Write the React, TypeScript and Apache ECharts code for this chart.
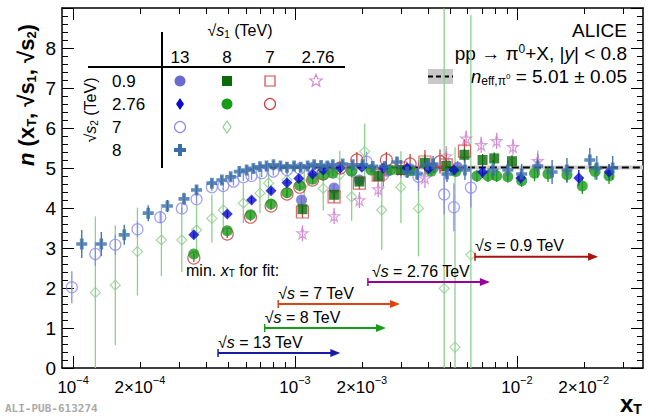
import { useEffect, useRef } from "react";
import * as echarts from "echarts";

// x_T values are real numbers, plotted on a log10 scale
const xTickLabels = [1e-4, 2e-4, 1e-3, 2e-3, 1e-2, 2e-2];
const xMajor = [1e-4, 1e-3, 1e-2];
const xMinor = [2e-4, 3e-4, 4e-4, 5e-4, 6e-4, 7e-4, 8e-4, 9e-4, 2e-3, 3e-3, 4e-3, 5e-3, 6e-3, 7e-3, 8e-3, 9e-3, 2e-2, 3e-2];

const fitValue = 5.01;
const fitErr = 0.05;
const fitStart = 7.7e-4;

// sqrt(s1)=13, sqrt(s2)=0.9
const c13_09X = [1.07e-3, 1.5e-3, 1.95e-3, 2.6e-3, 3.3e-3, 4.2e-3, 5.4e-3];
const c13_09Y = [4.2, 4.5, 4.7, 4.92, 4.98, 5.0, 5.02];
const c13_09E = [0.1, 0.1, 0.1, 0.1, 0.1, 0.12, 0.15];
// 8 / 0.9
const s8_09X = [1.08e-3, 1.5e-3, 1.95e-3, 2.37e-3, 3.0e-3, 3.85e-3, 4.8e-3, 5.8e-3, 7.0e-3, 7.9e-3, 9.5e-3];
const s8_09Y = [3.97, 4.33, 4.66, 4.8, 4.95, 5.13, 5.05, 5.33, 5.2, 5.24, 5.17];
const s8_09E = [0.1, 0.1, 0.1, 0.1, 0.12, 0.2, 0.2, 0.15, 0.15, 0.15, 0.15];
// 7 / 0.9
const s7_09X = [1.08e-3, 1.5e-3, 1.95e-3, 2.37e-3, 3.0e-3, 3.85e-3, 4.8e-3, 5.8e-3];
const s7_09Y = [3.9, 4.28, 4.62, 4.82, 5.0, 5.15, 5.08, 5.42];
const s7_09E = [0.15, 0.15, 0.15, 0.15, 0.2, 0.3, 0.3, 0.3];
// 2.76 / 0.9
const st276_09X = [1.08e-3, 1.5e-3, 1.95e-3, 2.37e-3, 3.0e-3, 3.85e-3, 4.8e-3, 5.9e-3, 6.9e-3, 8.1e-3, 9.6e-3, 1.24e-2];
const st276_09Y = [3.37, 3.8, 4.2, 4.47, 4.95, 4.75, 5.3, 5.74, 5.58, 5.68, 5.53, 5.18];
const st276_09E = [0.2, 0.2, 0.2, 0.2, 0.2, 0.25, 0.25, 0.2, 0.2, 0.2, 0.2, 0.25];
// 13 / 2.76
const d13_276X = [3.5e-4, 4.95e-4, 6.37e-4, 7.8e-4, 9.2e-4, 1.04e-3, 1.2e-3, 1.34e-3, 1.6e-3, 2.0e-3, 2.5e-3, 3.2e-3, 4.0e-3, 5.2e-3, 7.0e-3, 1.04e-2, 1.9e-2, 2.6e-2];
const d13_276Y = [3.33, 3.85, 4.2, 4.43, 4.63, 4.74, 4.85, 4.95, 5.0, 5.02, 5.0, 5.0, 4.98, 4.95, 4.9, 4.75, 4.75, 4.9];
const d13_276E = [0.08, 0.08, 0.08, 0.08, 0.08, 0.08, 0.08, 0.08, 0.08, 0.08, 0.08, 0.1, 0.1, 0.12, 0.15, 0.15, 0.2, 0.2];
// 8 / 2.76
const c8_276X = [3.5e-4, 4.95e-4, 6.3e-4, 7.8e-4, 9.2e-4, 1.05e-3, 1.2e-3, 1.34e-3, 1.48e-3, 1.8e-3, 2.2e-3, 2.7e-3, 3.3e-3, 4.1e-3, 5.3e-3, 6.6e-3, 7.4e-3, 8.1e-3, 9.1e-3, 1.05e-2, 1.2e-2, 1.38e-2, 1.68e-2, 1.97e-2, 2.25e-2, 2.6e-2];
const c8_276Y = [2.85, 3.43, 3.83, 4.1, 4.38, 4.56, 4.72, 4.83, 4.87, 4.92, 4.95, 4.95, 4.93, 4.92, 4.91, 4.8, 4.8, 4.8, 4.78, 4.68, 4.87, 4.85, 4.83, 4.55, 4.91, 4.8];
const c8_276E = [0.08, 0.08, 0.08, 0.08, 0.08, 0.08, 0.08, 0.08, 0.08, 0.08, 0.08, 0.08, 0.1, 0.1, 0.1, 0.15, 0.15, 0.15, 0.15, 0.15, 0.2, 0.2, 0.2, 0.2, 0.2, 0.2];
// 7 / 2.76
const oc7_276X = [3.5e-4, 4.95e-4, 6.3e-4, 7.8e-4, 9.2e-4, 1.05e-3, 1.2e-3, 1.34e-3, 1.6e-3, 1.9e-3, 2.58e-3, 3.3e-3, 4.5e-3];
const oc7_276Y = [2.75, 3.35, 3.77, 4.05, 4.35, 4.52, 4.7, 4.85, 5.0, 5.2, 5.2, 5.1, 5.16];
const oc7_276E = [0.1, 0.1, 0.1, 0.1, 0.1, 0.1, 0.1, 0.12, 0.15, 0.2, 0.2, 0.25, 0.3];
// 13 / 7
const oc13_7X = [9.87e-5, 1.26e-4, 1.55e-4, 1.95e-4, 2.47e-4, 3.09e-4, 3.6e-4, 4.22e-4, 4.75e-4, 5.28e-4, 5.85e-4, 6.37e-4, 7.08e-4, 7.98e-4, 9.2e-4, 1.05e-3, 1.2e-3, 1.4e-3, 1.8e-3, 2.1e-3, 2.5e-3, 3.6e-3, 4.7e-3, 5.2e-3, 6.2e-3];
const oc13_7Y = [2.02, 2.85, 3.08, 3.47, 3.77, 3.99, 4.22, 4.52, 4.55, 4.66, 4.77, 4.8, 4.87, 4.91, 4.95, 4.98, 5.0, 5.0, 4.95, 5.16, 4.83, 4.78, 4.34, 4.02, 4.51];
const oc13_7E = [0.4, 0.3, 0.25, 0.2, 0.15, 0.12, 0.1, 0.1, 0.1, 0.1, 0.1, 0.1, 0.1, 0.1, 0.1, 0.1, 0.1, 0.15, 0.2, 0.25, 0.3, 0.35, 0.5, 0.6, 0.5];
// 8 / 7
const od8_7X = [1.26e-4, 1.55e-4, 1.95e-4, 2.5e-4, 3.09e-4, 3.6e-4, 4.22e-4, 4.75e-4, 5.85e-4, 6.95e-4, 7.6e-4, 9.2e-4, 1.1e-3, 1.34e-3, 1.59e-3, 1.8e-3, 2.06e-3, 2.46e-3, 3.0e-3, 3.6e-3, 4.7e-3, 5.26e-3, 6.2e-3];
const od8_7Y = [1.89, 2.07, 2.91, 3.2, 3.2, 3.45, 3.74, 3.95, 4.12, 4.37, 4.62, 4.7, 4.6, 4.49, 4.83, 4.28, 5.41, 3.95, 4.52, 3.99, 1.99, 0.52, 2.83];
const od8_7E = [1.9, 1.5, 1.1, 0.9, 0.8, 0.7, 0.6, 0.55, 0.5, 0.5, 0.5, 0.45, 0.5, 0.55, 0.6, 0.6, 0.7, 1.0, 0.9, 1.2, 7, 5, 6];
// 13 / 8
const p13_8X = [1.094e-4, 1.34e-4, 1.7e-4, 2.18e-4, 2.66e-4, 3.16e-4, 3.6e-4, 4.22e-4, 4.68e-4, 5.13e-4, 5.61e-4, 6.05e-4, 6.49e-4, 6.95e-4, 7.44e-4, 8.0e-4, 8.6e-4, 9.2e-4, 9.9e-4, 1.06e-3, 1.14e-3, 1.22e-3, 1.31e-3, 1.4e-3, 1.48e-3, 1.64e-3, 1.82e-3, 2.02e-3, 2.24e-3, 2.54e-3, 2.88e-3, 3.2e-3, 3.55e-3, 3.94e-3, 4.19e-3, 4.84e-3, 5.83e-3, 7.8e-3, 9.1e-3, 1.05e-2, 1.24e-2, 1.44e-2, 1.68e-2, 2.13e-2, 2.29e-2, 2.7e-2];
const p13_8Y = [3.1, 3.1, 3.33, 3.87, 4.05, 4.23, 4.45, 4.62, 4.7, 4.78, 4.91, 4.95, 4.99, 5.03, 5.05, 5.08, 5.05, 5.02, 5.05, 5.02, 5.05, 5.08, 5.06, 5.05, 5.08, 5.1, 5.08, 5.08, 5.04, 5.04, 5.15, 4.9, 4.85, 5.08, 5.1, 4.85, 4.95, 4.95, 4.95, 4.85, 5.05, 4.9, 4.95, 5.2, 5.0, 5.0];
const p13_8E = [0.35, 0.3, 0.25, 0.2, 0.15, 0.15, 0.12, 0.1, 0.1, 0.1, 0.1, 0.1, 0.1, 0.1, 0.1, 0.1, 0.1, 0.1, 0.1, 0.1, 0.1, 0.1, 0.1, 0.1, 0.1, 0.1, 0.1, 0.1, 0.1, 0.1, 0.12, 0.15, 0.15, 0.15, 0.2, 0.2, 0.25, 0.25, 0.25, 0.25, 0.3, 0.3, 0.3, 0.3, 0.3, 0.3];

// min x_T for fit arrows
const arrowLabels = ["13", "8", "7", "2.76", "0.9"];
const arrowStart = [4.5e-4, 7.3e-4, 8.4e-4, 2.13e-3, 6.47e-3];
const arrowEnd = [1.6e-3, 2.57e-3, 2.97e-3, 7.55e-3, 2.32e-2];
const arrowY = [0.375, 1.0, 1.6, 2.15, 2.78];
const arrowColors = ["#1a1aa8", "#1a9a1a", "#dd4411", "#990099", "#aa1111"];

const CROSS = "path://M3.3,0H6.7V3.3H10V6.7H6.7V10H3.3V6.7H0V3.3H3.3Z";
const STAR = "path://M50,0L61,35L98,35L68,57L79,91L50,70L21,91L32,57L2,35L39,35Z";
const FONT = "Liberation Sans, Arial, sans-serif";
const L = (v: number) => Math.log10(v);
const X_MIN = -4.05;
const X_MAX = -1.432;

type Spec = { x: number[]; y: number[]; e: number[]; color: string; symbol: string; size: number; open: boolean };

const specs: Spec[] = [
  { x: od8_7X, y: od8_7Y, e: od8_7E, color: "#8fcf8f", symbol: "diamond", size: 10, open: true },
  { x: oc13_7X, y: oc13_7Y, e: oc13_7E, color: "#8a8af0", symbol: "circle", size: 11, open: true },
  { x: st276_09X, y: st276_09Y, e: st276_09E, color: "#d08ad0", symbol: STAR, size: 11, open: true },
  { x: c13_09X, y: c13_09Y, e: c13_09E, color: "#6a6ad0", symbol: "circle", size: 11, open: false },
  { x: s7_09X, y: s7_09Y, e: s7_09E, color: "#d04848", symbol: "rect", size: 12, open: true },
  { x: s8_09X, y: s8_09Y, e: s8_09E, color: "#0b6b0b", symbol: "rect", size: 10, open: false },
  { x: oc7_276X, y: oc7_276Y, e: oc7_276E, color: "#c04040", symbol: "circle", size: 12, open: true },
  { x: c8_276X, y: c8_276Y, e: c8_276E, color: "#1a9a1a", symbol: "circle", size: 11, open: false },
  { x: d13_276X, y: d13_276Y, e: d13_276E, color: "#0a0acc", symbol: "diamond", size: 11, open: false },
  { x: p13_8X, y: p13_8Y, e: p13_8E, color: "#3a6ea8", symbol: CROSS, size: 11, open: false },
];

// legend table: [column, row, spec index]
const tableCells: [number, number, number][] = [
  [0, 0, 3], [1, 0, 5], [2, 0, 4], [3, 0, 2],
  [0, 1, 8], [1, 1, 7], [2, 1, 6],
  [0, 2, 1], [1, 2, 0],
  [0, 3, 9],
];
const colLabels = ["13", "8", "7", "2.76"];
const rowLabels = ["0.9", "2.76", "7", "8"];

function tickLabel(v: number) {
  const e = Math.floor(v + 1e-6);
  const m = Math.round(Math.pow(10, v - e));
  const sup = `{s|−${-e}}`;
  return m === 1 ? `{b|10}${sup}` : `{b|${m}×10}${sup}`;
}

export default function App() {
  const ref = useRef<HTMLDivElement>(null);

  useEffect(() => {
    if (!ref.current) return;
    document.body.style.margin = "0";
    const chart = echarts.init(ref.current, null, { renderer: "svg" });

    const errSeries = specs.map((s) => ({
      type: "custom",
      xAxisIndex: 0,
      yAxisIndex: 0,
      clip: true,
      z: 2,
      data: s.x.map((x, i) => [L(x), s.y[i], s.e[i]]),
      renderItem: (_p: any, api: any) => {
        const x = api.value(0);
        const y = api.value(1);
        const e = api.value(2);
        const a = api.coord([x, Math.max(y - e, 0)]);
        const b = api.coord([x, Math.min(y + e, 9)]);
        return {
          type: "line",
          shape: { x1: a[0], y1: a[1], x2: b[0], y2: b[1] },
          style: { stroke: s.color, lineWidth: 1.3 },
        };
      },
    }));

    const markerSeries = specs.map((s) => ({
      type: "scatter",
      xAxisIndex: 0,
      yAxisIndex: 0,
      z: 3,
      symbol: s.symbol,
      symbolSize: s.size,
      data: s.x.map((x, i) => [L(x), s.y[i]]),
      itemStyle: s.open
        ? { color: "rgba(255,255,255,0)", borderColor: s.color, borderWidth: 1.2 }
        : { color: s.color },
    }));

    const arrows = {
      type: "custom",
      xAxisIndex: 0,
      yAxisIndex: 0,
      z: 4,
      data: arrowStart.map((x, i) => [L(x), L(arrowEnd[i]), arrowY[i], i]),
      renderItem: (_p: any, api: any) => {
        const i = api.value(3);
        const a = api.coord([api.value(0), api.value(2)]);
        const b = api.coord([api.value(1), api.value(2)]);
        const c = arrowColors[i];
        return {
          type: "group",
          children: [
            { type: "line", shape: { x1: a[0], y1: a[1], x2: b[0] - 8, y2: b[1] }, style: { stroke: c, lineWidth: 2 } },
            { type: "line", shape: { x1: a[0], y1: a[1] - 4, x2: a[0], y2: a[1] + 4 }, style: { stroke: c, lineWidth: 1.5 } },
            { type: "polygon", shape: { points: [[b[0], b[1]], [b[0] - 10, b[1] - 4], [b[0] - 10, b[1] + 4]] }, style: { fill: c } },
            {
              type: "text",
              x: a[0] + (i === 3 ? 4 : 0),
              y: a[1] - 3,
              style: {
                text: `{r|√}{i|s}{r| = ${arrowLabels[i]} TeV}`,
                verticalAlign: "bottom",
                rich: {
                  r: { fontSize: 16, fontFamily: FONT, fill: "#000" },
                  i: { fontSize: 16, fontFamily: FONT, fontStyle: "italic", fill: "#000" },
                },
              },
            },
          ],
        };
      },
    };

    const fit = {
      type: "line",
      xAxisIndex: 0,
      yAxisIndex: 0,
      z: 1,
      symbol: "none",
      data: [[L(fitStart), fitValue], [X_MAX, fitValue]],
      lineStyle: { color: "#000", type: [7, 4], width: 2 },
      markArea: {
        silent: true,
        itemStyle: { color: "#cfcfcf" },
        data: [[{ xAxis: L(fitStart), yAxis: fitValue - fitErr }, { xAxis: X_MAX, yAxis: fitValue + fitErr }]],
      },
    };

    const axisBase = { type: "value", min: X_MIN, max: X_MAX, splitLine: { show: false } };
    const tickStyle = { lineStyle: { color: "#000", width: 1 } };

    const colX = [180, 227, 270, 316];
    const rowY = [81, 104, 127, 150];

    const txt = (x: number, y: number, text: string, extra: any = {}) => ({
      type: "text",
      x,
      y,
      style: { text, fontSize: 17, fontFamily: FONT, fill: "#000", ...extra },
    });

    const sqrtRich = {
      r: { fontSize: 16, fontFamily: FONT, fill: "#000" },
      i: { fontSize: 16, fontFamily: FONT, fontStyle: "italic", fill: "#000" },
      sub: { fontSize: 10, fontFamily: FONT, fill: "#000", padding: [8, 0, 0, 0] },
    };

    const legendMarks = tableCells.map(([c, r, k]) => {
      const s = specs[k];
      const x = colX[c];
      const y = rowY[r];
      const st = { fill: s.open ? "none" : s.color, stroke: s.open ? s.color : undefined, lineWidth: 1.2 };
      if (s.symbol === "circle") return { type: "circle", shape: { cx: x, cy: y, r: 5.5 }, style: st };
      if (s.symbol === "rect") return { type: "rect", shape: { x: x - 5, y: y - 5, width: 10, height: 10 }, style: st };
      if (s.symbol === "diamond")
        return { type: "polygon", shape: { points: [[x, y - 6], [x + 4, y], [x, y + 6], [x - 4, y]] }, style: st };
      if (s.symbol === STAR) {
        const pts: number[][] = [];
        for (let j = 0; j < 10; j++) {
          const rr = j % 2 === 0 ? 6.5 : 2.8;
          const a = -Math.PI / 2 + (j * Math.PI) / 5;
          pts.push([x + rr * Math.cos(a), y + rr * Math.sin(a)]);
        }
        return { type: "polygon", shape: { points: pts }, style: st };
      }
      return {
        type: "polygon",
        shape: { points: [[x - 2, y - 6], [x + 2, y - 6], [x + 2, y - 2], [x + 6, y - 2], [x + 6, y + 2], [x + 2, y + 2], [x + 2, y + 6], [x - 2, y + 6], [x - 2, y + 2], [x - 6, y + 2], [x - 6, y - 2], [x - 2, y - 2]] },
        style: st,
      };
    });

    const graphic: any[] = [
      { type: "line", shape: { x1: 162, y1: 32, x2: 162, y2: 168 }, style: { stroke: "#000", lineWidth: 2 } },
      { type: "line", shape: { x1: 88, y1: 67, x2: 345, y2: 67 }, style: { stroke: "#000", lineWidth: 2 } },
      { type: "text", x: 240, y: 30, style: { text: "{r|√}{i|s}{sub|1}{r| (TeV)}", align: "center", verticalAlign: "middle", rich: sqrtRich } },
      ...colLabels.map((t, i) => txt(colX[i] + (i === 3 ? 2 : 0), 57, t, { align: "center", verticalAlign: "middle" })),
      ...rowLabels.map((t, i) => txt(112, rowY[i], t, { align: "left", verticalAlign: "middle" })),
      { type: "text", x: 90, y: 110, rotation: Math.PI / 2, style: { text: "{r|√}{i|s}{sub|2}{r| (TeV)}", align: "center", verticalAlign: "middle", rich: sqrtRich } },
      ...legendMarks,
      // y axis title
      {
        type: "text", x: 26, y: 95, rotation: Math.PI / 2,
        style: {
          text: "{n|n}{b| (x}{sub|T}{b|, √s}{sub|1}{b|, √s}{sub|2}{b|)}",
          align: "center", verticalAlign: "middle",
          rich: {
            n: { fontSize: 22, fontFamily: FONT, fontWeight: "bold", fontStyle: "italic", fill: "#000" },
            b: { fontSize: 22, fontFamily: FONT, fontWeight: "bold", fill: "#000" },
            sub: { fontSize: 13, fontFamily: FONT, fontWeight: "bold", fill: "#000", padding: [10, 0, 0, 0] },
          },
        },
      },
      // x axis title
      {
        type: "text", x: 620, y: 403,
        style: {
          text: "{b|x}{sub|T}", verticalAlign: "middle",
          rich: {
            b: { fontSize: 24, fontFamily: FONT, fontWeight: "bold", fill: "#000" },
            sub: { fontSize: 14, fontFamily: FONT, fontWeight: "bold", fill: "#000", padding: [12, 0, 0, 0] },
          },
        },
      },
      txt(5, 408, "ALI-PUB-613274", { fontSize: 11, fontFamily: "DejaVu Sans Mono, monospace", fontWeight: "bold", fill: "#aaa", verticalAlign: "middle" }),
      txt(627, 30, "ALICE", { align: "right", verticalAlign: "middle", fontSize: 19 }),
      {
        type: "text", x: 627, y: 53,
        style: {
          text: "{r|pp → π}{sup|0}{r|+X, |}{i|y}{r|| < 0.8}", align: "right", verticalAlign: "middle",
          rich: {
            r: { fontSize: 19, fontFamily: FONT, fill: "#000" },
            i: { fontSize: 19, fontFamily: FONT, fontStyle: "italic", fill: "#000" },
            sup: { fontSize: 12, fontFamily: FONT, fill: "#000", padding: [0, 0, 9, 0] },
          },
        },
      },
      { type: "rect", shape: { x: 428, y: 69, width: 25, height: 15 }, style: { fill: "#c8c8c8" } },
      { type: "line", shape: { x1: 428, y1: 76.5, x2: 453, y2: 76.5 }, style: { stroke: "#000", lineWidth: 2, lineDash: [5, 3] } },
      {
        type: "text", x: 627, y: 76,
        style: {
          text: "{i|n}{sub|eff,π}{sup2|0}{r| = 5.01 ± 0.05}", align: "right", verticalAlign: "middle",
          rich: {
            r: { fontSize: 19, fontFamily: FONT, fill: "#000" },
            i: { fontSize: 19, fontFamily: FONT, fontStyle: "italic", fill: "#000" },
            sub: { fontSize: 12, fontFamily: FONT, fill: "#000", padding: [9, 0, 0, 0] },
            sup2: { fontSize: 8, fontFamily: FONT, fill: "#000" },
          },
        },
      },
      {
        type: "text", x: 186, y: 270,
        style: {
          text: "{r|min. }{i|x}{sub|T}{r| for fit:}", verticalAlign: "middle",
          rich: {
            r: { fontSize: 16, fontFamily: FONT, fill: "#000" },
            i: { fontSize: 16, fontFamily: FONT, fontStyle: "italic", fill: "#000" },
            sub: { fontSize: 10, fontFamily: FONT, fill: "#000", padding: [7, 0, 0, 0] },
          },
        },
      },
    ];

    const option: any = {
      animation: false,
      backgroundColor: "#fff",
      grid: { left: 62, right: 7, top: 8, bottom: 48 },
      xAxis: [
        {
          ...axisBase,
          position: "bottom",
          axisLine: { show: true, lineStyle: { color: "#000", width: 1.5 } },
          axisTick: { show: true, inside: true, length: 12, customValues: xMajor.map(L), ...tickStyle },
          axisLabel: {
            customValues: xTickLabels.map(L),
            formatter: tickLabel,
            margin: 6,
            rich: {
              b: { fontSize: 17, fontFamily: FONT, color: "#000", verticalAlign: "bottom", lineHeight: 22 },
              s: { fontSize: 11, fontFamily: FONT, color: "#000", verticalAlign: "top", lineHeight: 22, padding: [0, 0, 6, 0] },
            },
          },
        },
        {
          ...axisBase,
          position: "bottom",
          axisLine: { show: false },
          axisTick: { show: true, inside: true, length: 6, customValues: xMinor.map(L), ...tickStyle },
          axisLabel: { show: false },
        },
        {
          ...axisBase,
          position: "top",
          axisLine: { show: true, lineStyle: { color: "#000", width: 1.5 } },
          axisTick: { show: true, inside: true, length: 12, customValues: xMajor.map(L), ...tickStyle },
          axisLabel: { show: false },
        },
        {
          ...axisBase,
          position: "top",
          axisLine: { show: false },
          axisTick: { show: true, inside: true, length: 6, customValues: xMinor.map(L), ...tickStyle },
          axisLabel: { show: false },
        },
      ],
      yAxis: [
        {
          type: "value", min: 0, max: 9, interval: 1, position: "left",
          splitLine: { show: false },
          axisLine: { show: true, lineStyle: { color: "#000", width: 1.5 } },
          axisTick: { inside: true, length: 12, ...tickStyle },
          minorTick: { show: true, splitNumber: 5, length: 6, lineStyle: { color: "#000" } },
          axisLabel: {
            color: "#000", fontSize: 19, fontFamily: FONT, margin: 6,
            formatter: (v: number) => (v === 9 ? "" : String(v)),
          },
        },
        {
          type: "value", min: 0, max: 9, interval: 1, position: "right",
          splitLine: { show: false },
          axisLine: { show: true, lineStyle: { color: "#000", width: 1.5 } },
          axisTick: { inside: true, length: 12, ...tickStyle },
          minorTick: { show: true, splitNumber: 5, length: 6, lineStyle: { color: "#000" } },
          axisLabel: { show: false },
        },
      ],
      graphic,
      series: [fit, ...errSeries, ...markerSeries, arrows],
    };

    chart.setOption(option);
    return () => chart.dispose();
  }, []);

  return <div ref={ref} style={{ width: 650, height: 416 }} />;
}
